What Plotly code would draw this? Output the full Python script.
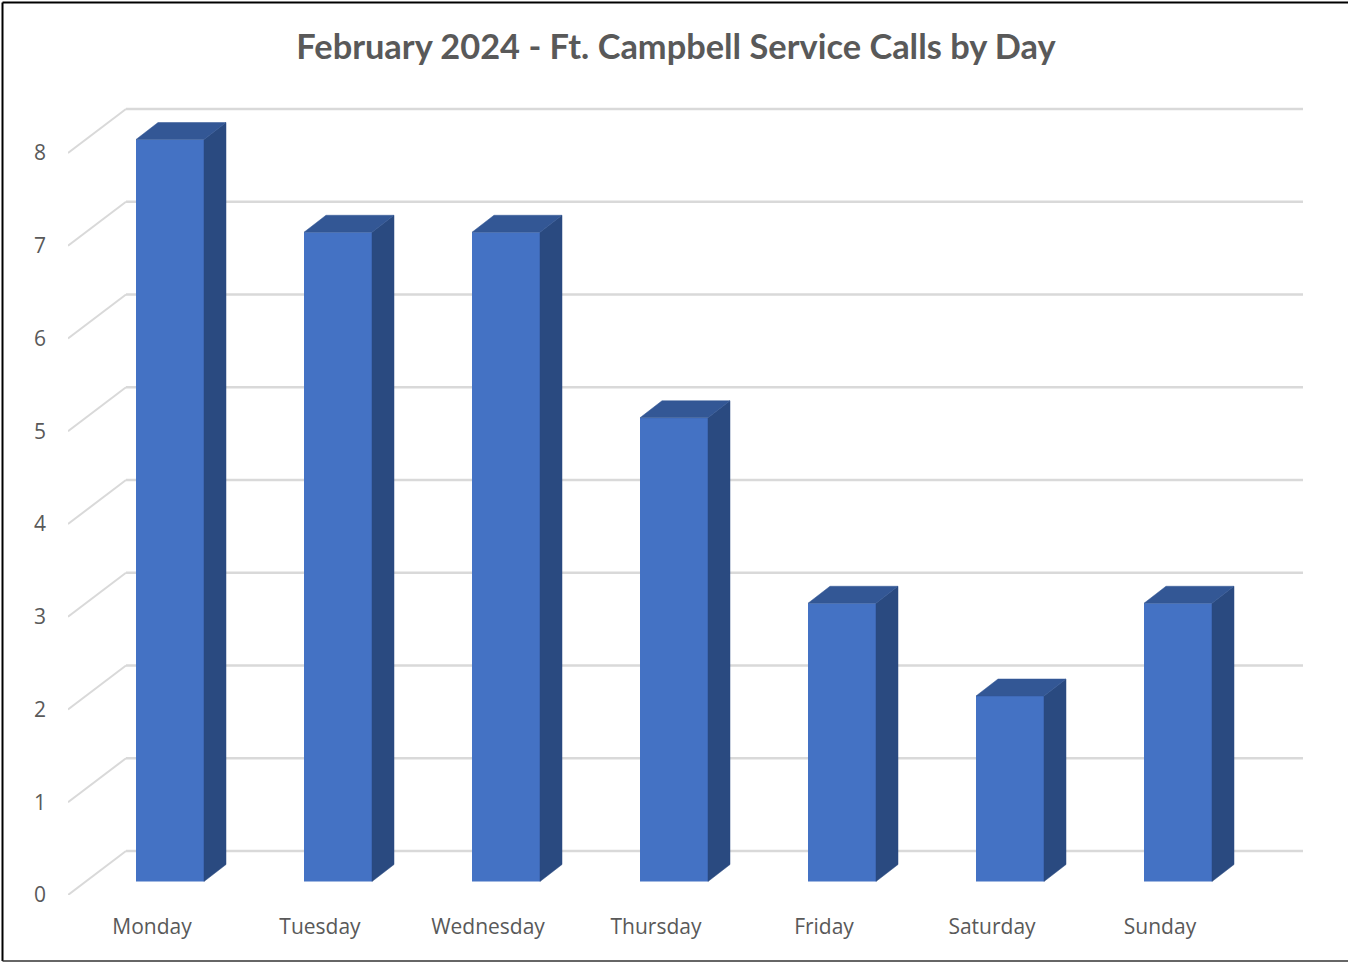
import plotly.graph_objects as go

days = ["Monday", "Tuesday", "Wednesday", "Thursday", "Friday", "Saturday", "Sunday"]
calls = [8, 7, 7, 5, 3, 2, 3]
y_ticks = [0, 1, 2, 3, 4, 5, 6, 7, 8]
title = "February 2024 - Ft. Campbell Service Calls by Day"

# fake 3d look, everything below is in axis units (168px per day, 92.75px per call)
PX_X = 168.0
PX_Y = 92.75
bar_w = 68 / PX_X
bar_shift = 18 / PX_X
bar_base = 13.5 / PX_Y
depth_x = 22 / PX_X
depth_y = 17 / PX_Y
floor_x = 58 / PX_X
floor_y = 44 / PX_Y
x_min = -0.5
x_max = 1235 / PX_X - 0.5
y_max = 790 / PX_Y

W, H = 1348, 962
M_L, M_R, M_T, M_B = 68, 45, 105, 67

positions = list(range(len(days)))

fig = go.Figure()

# grid: a diagonal on the floor wall, then the line along the back wall
for k in y_ticks:
    fig.add_shape(type="line", layer="below", xref="x", yref="y",
                  x0=x_min, y0=k, x1=x_min + floor_x, y1=k + floor_y,
                  line=dict(color="#d9d9d9", width=2))
    fig.add_shape(type="line", layer="below", xref="x", yref="y",
                  x0=x_min + floor_x, y0=k + floor_y, x1=x_max, y1=k + floor_y,
                  line=dict(color="#d9d9d9", width=2.5))

fig.add_trace(go.Bar(x=[p + bar_shift for p in positions],
                     y=calls,
                     base=bar_base,
                     width=bar_w,
                     marker=dict(color="#4472c4", line=dict(width=0)),
                     hoverinfo="skip"))

for p, v in zip(positions, calls):
    left = p + bar_shift - bar_w / 2
    right = p + bar_shift + bar_w / 2
    top = v + bar_base
    fig.add_trace(go.Scatter(x=[right, right + depth_x, right + depth_x, right, right],
                             y=[bar_base, bar_base + depth_y, top + depth_y, top, bar_base],
                             mode="lines", fill="toself", fillcolor="#2a4a80",
                             line=dict(color="#2a4a80", width=0.5), hoverinfo="skip"))
    fig.add_trace(go.Scatter(x=[left, left + depth_x, right + depth_x, right, left],
                             y=[top, top + depth_y, top + depth_y, top, top],
                             mode="lines", fill="toself", fillcolor="#335795",
                             line=dict(color="#335795", width=0.5), hoverinfo="skip"))

# border of the pasted picture, no line on the right side
plot_w = W - M_L - M_R
plot_h = H - M_T - M_B
left_line = (2.5 - M_L) / plot_w
right_edge = (W - M_L) / plot_w
top_line = (H - M_B - 2.5) / plot_h
bottom_line = (1.0 - M_B) / plot_h
fig.add_shape(type="line", xref="paper", yref="paper", x0=left_line, y0=bottom_line, x1=left_line, y1=top_line,
              line=dict(color="black", width=2))
fig.add_shape(type="line", xref="paper", yref="paper", x0=left_line, y0=top_line, x1=right_edge, y1=top_line,
              line=dict(color="black", width=2))
fig.add_shape(type="line", xref="paper", yref="paper", x0=left_line, y0=bottom_line, x1=right_edge, y1=bottom_line,
              line=dict(color="#333333", width=1.5))

fig.update_xaxes(range=[x_min, x_max], tickmode="array", tickvals=positions, ticktext=days,
                 showgrid=False, zeroline=False, showline=False, ticks="",
                 ticklabelstandoff=17,
                 tickfont=dict(family="Open Sans", size=21, color="#595959"))
fig.update_yaxes(range=[0, y_max], tickmode="array", tickvals=y_ticks,
                 showgrid=False, zeroline=False, showline=False, ticks="",
                 ticklabelstandoff=21,
                 tickfont=dict(family="Open Sans", size=21, color="#595959"))

fig.update_layout(title=dict(text="<b>" + title + "</b>", x=676 / W, xanchor="center",
                             y=1 - 47 / H, yanchor="middle",
                             font=dict(family="Lato", size=34.4, color="#595959")),
                  width=W, height=H, showlegend=False,
                  margin=dict(l=M_L, r=M_R, t=M_T, b=M_B, autoexpand=False),
                  paper_bgcolor="white", plot_bgcolor="white")

fig.write_html("out.html", config=dict(displayModeBar=False),
               post_script="document.body.style.margin='0';")
